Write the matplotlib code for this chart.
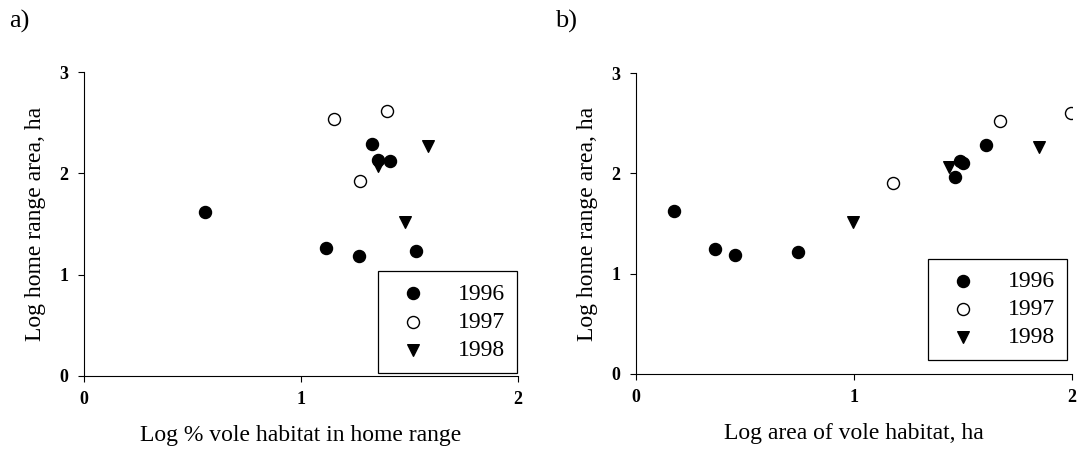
import matplotlib
matplotlib.use("Agg")
import matplotlib.pyplot as plt

plt.rcParams['font.family'] = ['Liberation Serif', 'DejaVu Serif']

# panel a: log % vole habitat in home range vs log home range area
a_x_1996 = [0.556, 1.113, 1.265, 1.532, 1.329, 1.357, 1.408]
a_y_1996 = [1.62, 1.26, 1.185, 1.23, 2.29, 2.13, 2.12]
a_x_1997 = [1.154, 1.397, 1.273]
a_y_1997 = [2.54, 2.62, 1.92]
a_x_1998 = [1.583, 1.357, 1.479]
a_y_1998 = [2.27, 2.07, 1.52]

# panel b: log area of vole habitat vs log home range area
b_x_1996 = [0.176, 0.364, 0.455, 0.743, 1.464, 1.484, 1.502, 1.605]
b_y_1996 = [1.62, 1.25, 1.19, 1.22, 1.96, 2.12, 2.10, 2.28]
b_x_1997 = [1.179, 1.669, 1.995]
b_y_1997 = [1.90, 2.52, 2.60]
b_x_1998 = [0.995, 1.436, 1.848]
b_y_1998 = [1.515, 2.065, 2.26]

years = ['1996', '1997', '1998']

fig = plt.figure(figsize=(10.84, 4.55), dpi=100)


def draw_panel(rect, xs, ys, xlabel, tag, tag_x, leg_anchor):
    ax = fig.add_axes(rect)
    ax.scatter(xs[0], ys[0], marker='o', s=75, c='black', edgecolors='black', label=years[0], zorder=3)
    ax.scatter(xs[1], ys[1], marker='o', s=75, facecolors='white', edgecolors='black', linewidths=1.0, label=years[1], zorder=3)
    ax.scatter(xs[2], ys[2], marker='v', s=70, c='black', edgecolors='black', label=years[2], zorder=3)
    ax.set_xlim(0, 2)
    ax.set_ylim(0, 3)
    ax.set_xticks([0, 1, 2])
    ax.set_yticks([0, 1, 2, 3])
    ax.spines['top'].set_visible(False)
    ax.spines['right'].set_visible(False)
    ax.tick_params(direction='out', length=4, width=0.8, labelsize=13, pad=7)
    for lab in ax.get_xticklabels() + ax.get_yticklabels():
        lab.set_fontweight('bold')
    ax.set_xlabel(xlabel, fontsize=17, labelpad=12)
    ax.set_ylabel('Log home range area, ha', fontsize=17, labelpad=10)
    leg = ax.legend(loc='lower right', bbox_to_anchor=leg_anchor, fontsize=17,
                    fancybox=False, edgecolor='black', framealpha=1,
                    handletextpad=0.9, labelspacing=0.28, borderpad=0.5,
                    borderaxespad=0, scatterpoints=1)
    leg.get_frame().set_linewidth(0.9)
    fig.text(tag_x, 0.952, tag, fontsize=19, ha='left', va='center')
    return ax


draw_panel([84 / 1084, 79 / 455, 434 / 1084, 304 / 455],
           [a_x_1996, a_x_1997, a_x_1998], [a_y_1996, a_y_1997, a_y_1998],
           'Log % vole habitat in home range', 'a)', 0.008, (0.998, 0.011))
draw_panel([636 / 1084, 81 / 455, 436 / 1084, 301 / 455],
           [b_x_1996, b_x_1997, b_x_1998], [b_y_1996, b_y_1997, b_y_1998],
           'Log area of vole habitat, ha', 'b)', 0.512, (0.989, 0.046))

fig.savefig('out.png', dpi=100)
